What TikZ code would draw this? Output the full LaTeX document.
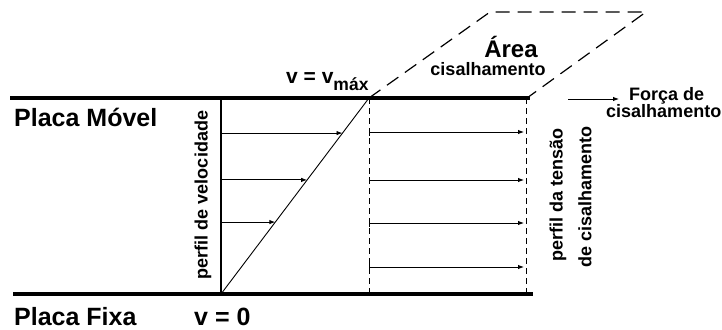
\documentclass[tikz,border=0pt]{standalone}
\usepackage{fontspec}
\setmainfont{Liberation Sans}
\usetikzlibrary{arrows.meta,calc}
\begin{document}
\begin{tikzpicture}[x=1pt,y=-1pt,
  lbl/.style={font=\bfseries\fontsize{18}{18}\selectfont, inner sep=0pt},
  big/.style={font=\bfseries\fontsize{25}{25}\selectfont, inner sep=0pt},
  plate/.style={line width=4pt},
  thin/.style={line width=0.9pt},
  arr/.style={line width=0.9pt,-{Latex[length=6pt,width=4.5pt]}},
  sarr/.style={line width=0.9pt,{Bar[width=7pt]}-{Latex[length=6pt,width=4.5pt]}},
  vdash/.style={line width=1pt, dash pattern=on 6pt off 4pt},
  adash/.style={line width=1.2pt, dash pattern=on 14pt off 8pt}
]
\useasboundingbox (0,0) rectangle (722,329);
% plates
\coordinate (TL) at (10,98);  \coordinate (TR) at (530,98);
\coordinate (BL) at (13,294); \coordinate (BR) at (533,294);
\draw[plate] (TL) -- (TR);
\draw[plate] (BL) -- (BR);
% velocity profile
\coordinate (V0) at (221,294); \coordinate (VT) at (221,98);
\coordinate (VM) at (369,98);  \coordinate (VMb) at (369,294);
\draw[line width=1.3pt] (V0) -- (VT);
\draw[thin] (V0) -- (VM);
\coordinate (a1) at ($(V0)!0.821!(VM)$);
\coordinate (a2) at ($(V0)!0.582!(VM)$);
\coordinate (a3) at ($(V0)!0.367!(VM)$);
\draw[arr] (V0 |- a1) -- (a1);
\draw[arr] (V0 |- a2) -- (a2);
\draw[arr] (V0 |- a3) -- (a3);
% shear stress profile
\coordinate (R) at (526,98); \coordinate (Rb) at (526,294);
\draw[vdash] (VM) -- (VMb);
\draw[vdash] (R) -- (Rb);
\foreach \y [count=\i] in {132,180,223,267}{
  \coordinate (s\i) at (369,\y);
  \coordinate (e\i) at (524,\y);
  \draw[sarr] (s\i) -- (e\i);
}
% area parallelogram
\coordinate (P1) at (369,98); \coordinate (P2) at (490,12);
\coordinate (P3) at (646,12); \coordinate (P4) at (527,98);
\draw[adash] (P1) -- (P2) -- (P3) -- (P4);
% texts
\node[big, anchor=base west] (movel) at (14,126) {Placa Móvel};
\node[big, anchor=base west] (fixa) at (14,325) {Placa Fixa};
\node[big, anchor=base west] (v0) at (194,325) {v = 0};
\node[font=\bfseries\fontsize{21}{21}\selectfont, inner sep=0pt, anchor=base west] (vmax) at (286,83)
  {v = v\raisebox{-7pt}{\fontsize{17.5}{17}\selectfont máx}};
\node[font=\bfseries\fontsize{24}{24}\selectfont, inner sep=0pt, anchor=base] (area) at (511,58) {Área};
\node[lbl, anchor=base] (cis1) at (488,75) {cisalhamento};
\node[lbl, rotate=90] (pv) at (203,195) {perfil de velocidade};
\node[lbl, rotate=90] (pt1) at (558,195) {perfil da tensão};
\node[lbl, rotate=90] (pt2) at (585,197) {de cisalhamento};
\node[lbl, anchor=base west] (forca) at (629,100) {Força de};
\node[lbl, anchor=base west] (cis2) at (606,117) {cisalhamento};
\coordinate (fa) at (568,99); \coordinate (fb) at (619,99);
\draw[arr] (fa) -- (fb);
\end{tikzpicture}
\end{document}
